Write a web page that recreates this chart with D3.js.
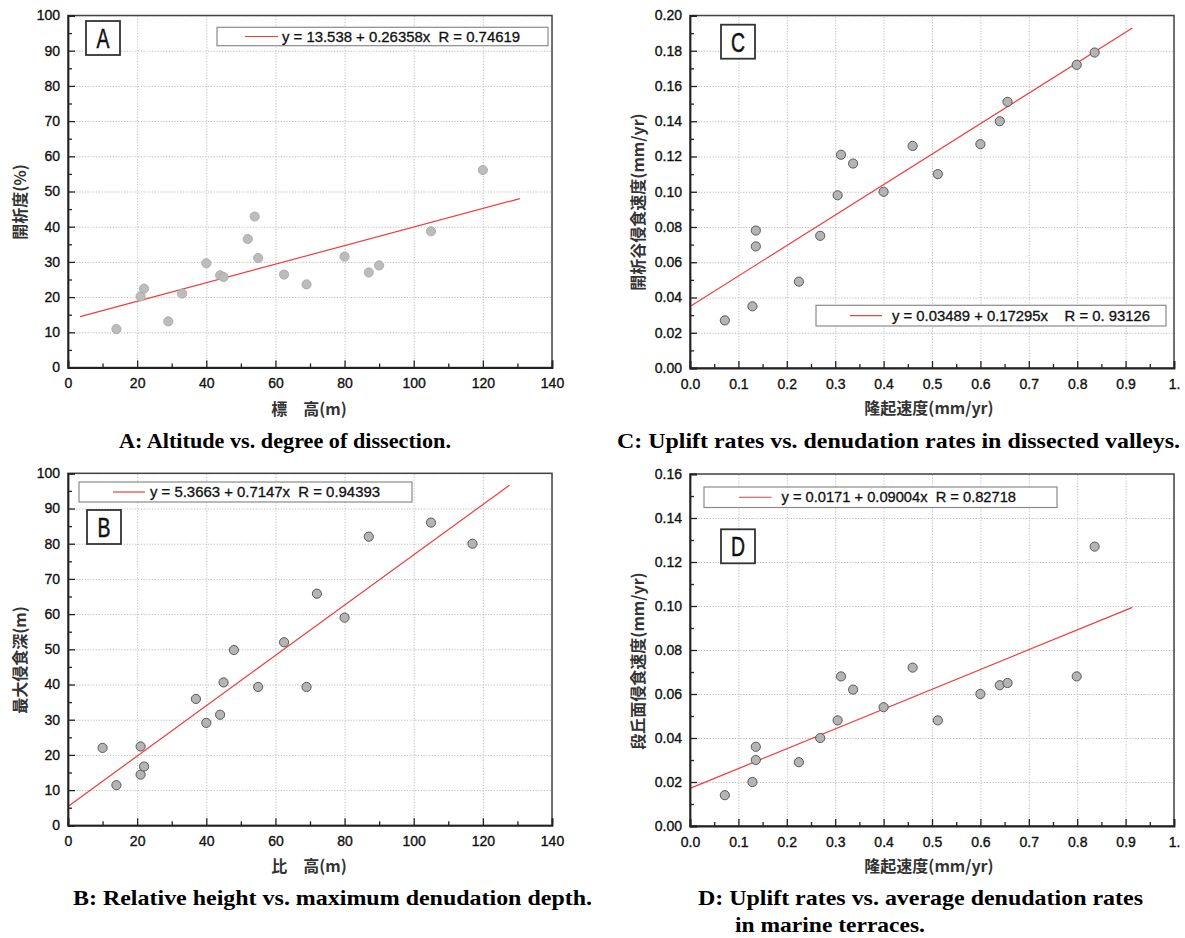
<!DOCTYPE html>
<html>
<head>
<meta charset="utf-8">
<script src="https://cdnjs.cloudflare.com/ajax/libs/d3/7.8.5/d3.min.js"></script>
<style>
body { margin: 0; background: white; }
.tick text { font-family: "Liberation Sans", Arial, sans-serif; font-size: 14px; fill: #111; stroke: #111; stroke-width: 0.35px; }
.grid line { stroke: #bdbdbd; stroke-dasharray: 1.2,1.6; }
.axis path { stroke: #222; stroke-width: 1.8; }
.axis line { stroke: #222; stroke-width: 1.3; }
.ttl { font-family: "Noto Sans CJK JP", sans-serif; font-size: 16px; font-weight: 600; fill: #333; }
.cap { font-family: "Liberation Serif", "Times New Roman", serif; font-weight: bold; font-size: 22px; fill: #000; }
.leg { font-family: "Liberation Sans", Arial, sans-serif; font-size: 14.5px; fill: #111; stroke: #111; stroke-width: 0.3px; }
.letter { font-family: "Liberation Sans", Arial, sans-serif; font-size: 27px; fill: #111; stroke: #111; stroke-width: 0.5px; }
</style>
</head>
<body>
<svg id="fig" width="1185" height="938"></svg>
<script>
// A: altitude vs degree of dissection
var altitude   = [14, 21, 22, 29, 33, 40, 44, 45, 52, 54, 55, 62.5, 69, 80, 87, 90, 105, 120];
var dissection = [10.9, 20.2, 22.4, 13.1, 21.0, 29.6, 26.2, 25.7, 36.5, 42.9, 31.1, 26.4, 23.6, 31.5, 27.0, 29.0, 38.7, 56.1];

// B: relative height vs maximum denudation depth
var relHeight  = [10, 14, 21, 21, 22, 37, 40, 44, 45, 48, 55, 62.5, 69, 72, 80, 87, 105, 117];
var maxDepth   = [22.0, 11.4, 22.4, 14.4, 16.7, 35.9, 29.1, 31.4, 40.6, 49.8, 39.3, 52.0, 39.3, 65.8, 59.0, 82.0, 86.0, 80.0];

// C / D: uplift rates
var uplift     = [0.072, 0.129, 0.136, 0.136, 0.225, 0.269, 0.305, 0.312, 0.337, 0.400, 0.460, 0.512, 0.600, 0.640, 0.656, 0.799, 0.836];
var valleyRate = [0.027, 0.035, 0.078, 0.069, 0.049, 0.075, 0.098, 0.121, 0.116, 0.100, 0.126, 0.110, 0.127, 0.140, 0.151, 0.172, 0.179];
var terraceRate= [0.014, 0.020, 0.036, 0.030, 0.029, 0.040, 0.048, 0.068, 0.062, 0.054, 0.072, 0.048, 0.060, 0.064, 0.065, 0.068, 0.127];

// regression lines (intercept, slope, drawn x range)
var fitA = {a: 13.538, b: 0.26358, from: 3.5, to: 130.7};
var fitB = {a: 5.3663, b: 0.7147, from: 0, to: 127.7};
var fitC = {a: 0.03489, b: 0.17295, from: 0, to: 0.914};
var fitD = {a: 0.0171, b: 0.09004, from: 0, to: 0.914};

// tick labels
var xTicksAB  = [0, 20, 40, 60, 80, 100, 120, 140];
var xMinorAB  = [10, 30, 50, 70, 90, 110, 130];
var yTicksAB  = [0, 10, 20, 30, 40, 50, 60, 70, 80, 90, 100];
var yMinorAB  = [5, 15, 25, 35, 45, 55, 65, 75, 85, 95];
var xTicksCD  = [0, 0.1, 0.2, 0.3, 0.4, 0.5, 0.6, 0.7, 0.8, 0.9, 1.0];
var xLabelsCD = ["0.0", "0.1", "0.2", "0.3", "0.4", "0.5", "0.6", "0.7", "0.8", "0.9", "1."];
var xMinorCD  = [0.05, 0.15, 0.25, 0.35, 0.45, 0.55, 0.65, 0.75, 0.85, 0.95];
var yTicksC   = [0, 0.02, 0.04, 0.06, 0.08, 0.10, 0.12, 0.14, 0.16, 0.18, 0.20];
var yMinorC   = [0.01, 0.03, 0.05, 0.07, 0.09, 0.11, 0.13, 0.15, 0.17, 0.19];
var yTicksD   = [0, 0.02, 0.04, 0.06, 0.08, 0.10, 0.12, 0.14, 0.16];
var yMinorD   = [0.01, 0.03, 0.05, 0.07, 0.09, 0.11, 0.13, 0.15];

var svg = d3.select("#fig");

function panel(p) {
  var g = svg.append("g").attr("transform", "translate(" + p.left + "," + p.top + ")");
  var x = d3.scaleLinear().domain(p.xDomain).range([0, p.w]);
  var y = d3.scaleLinear().domain(p.yDomain).range([p.h, 0]);

  // dotted grid
  g.append("g").attr("class", "grid").attr("transform", "translate(0," + p.h + ")")
    .call(d3.axisBottom(x).tickValues(p.xTicks).tickSize(-p.h).tickFormat(""))
    .call(function(s) { s.select(".domain").remove(); });
  g.append("g").attr("class", "grid")
    .call(d3.axisLeft(y).tickValues(p.yTicks).tickSize(-p.w).tickFormat(""))
    .call(function(s) { s.select(".domain").remove(); });

  // frame
  g.append("rect").attr("width", p.w).attr("height", p.h)
    .attr("fill", "none").attr("stroke", "#444").attr("stroke-width", 1.5);

  // fit line
  var line = d3.line().x(function(d) { return x(d); }).y(function(d) { return y(p.fit.a + p.fit.b * d); });
  g.append("path").datum([p.fit.from, p.fit.to]).attr("d", line)
    .attr("fill", "none").attr("stroke", "#f03c3c").attr("stroke-width", 1.2);

  // points
  g.selectAll("circle").data(p.xs).enter().append("circle")
    .attr("cx", function(d) { return x(d); })
    .attr("cy", function(d, i) { return y(p.ys[i]); })
    .attr("r", 4.6)
    .attr("fill", p.dot.fill).attr("stroke", p.dot.stroke).attr("stroke-width", 0.9);

  // axes
  g.append("g").attr("class", "axis").attr("transform", "translate(0," + p.h + ")")
    .call(d3.axisBottom(x).tickValues(p.xTicks).tickSize(-7).tickPadding(11)
      .tickFormat(function(d, i) { return p.xLabels[i]; }));
  g.append("g").attr("class", "axis").attr("transform", "translate(0," + p.h + ")")
    .call(d3.axisBottom(x).tickValues(p.xMinor).tickSize(-4).tickFormat(""))
    .call(function(s) { s.select(".domain").remove(); });
  g.append("g").attr("class", "axis")
    .call(d3.axisLeft(y).tickValues(p.yTicks).tickSize(-7).tickPadding(8)
      .tickFormat(function(d, i) { return p.yLabels[i]; }));
  g.append("g").attr("class", "axis")
    .call(d3.axisLeft(y).tickValues(p.yMinor).tickSize(-4).tickFormat(""))
    .call(function(s) { s.select(".domain").remove(); });

  // legend
  var L = p.legend;
  svg.append("rect").attr("x", L.x).attr("y", L.y).attr("width", L.w).attr("height", L.h)
    .attr("fill", "white").attr("stroke", "#8a8a8a").attr("stroke-width", 1.2);
  svg.append("line").attr("x1", L.lx1).attr("x2", L.lx2).attr("y1", L.y + L.h / 2).attr("y2", L.y + L.h / 2)
    .attr("stroke", "#f03c3c").attr("stroke-width", 1.2);
  svg.append("text").attr("class", "leg").attr("x", L.tx).attr("y", L.y + L.h / 2)
    .attr("dy", "0.36em").attr("textLength", L.tw).attr("lengthAdjust", "spacingAndGlyphs")
    .style("white-space", "pre").text(L.text);

  // letter box
  var B = p.box;
  svg.append("rect").attr("x", B.x).attr("y", B.y).attr("width", 34).attr("height", 34)
    .attr("fill", "white").attr("stroke", "#333").attr("stroke-width", 1.8);
  svg.append("text").attr("class", "letter")
    .attr("transform", "translate(" + (B.x + 17) + "," + (B.y + 27) + ") scale(0.72,1)")
    .attr("text-anchor", "middle").text(p.letter);

  // axis titles
  svg.append("text").attr("class", "ttl").attr("x", p.xt[0]).attr("y", p.xt[1])
    .attr("text-anchor", "middle").attr("dominant-baseline", "central").text(p.xTitle);
  svg.append("text").attr("class", "ttl")
    .attr("transform", "translate(" + p.yt[0] + "," + p.yt[1] + ") rotate(-90)")
    .attr("text-anchor", "middle").attr("dominant-baseline", "central").text(p.yTitle);

  // caption
  p.caption.forEach(function(c) {
    svg.append("text").attr("class", "cap").attr("x", c.x).attr("y", c.y)
      .attr("textLength", c.w).attr("lengthAdjust", "spacingAndGlyphs").text(c.t);
  });
}

panel({
  left: 68, top: 15.5, w: 484, h: 352,
  xDomain: [0, 140], yDomain: [0, 100],
  xTicks: xTicksAB, xLabels: xTicksAB.map(String), xMinor: xMinorAB,
  yTicks: yTicksAB, yLabels: yTicksAB.map(String), yMinor: yMinorAB,
  xs: altitude, ys: dissection, fit: fitA,
  dot: {fill: "#bcbcbc", stroke: "#a9a9a9"},
  legend: {x: 217, y: 27.3, w: 331, h: 18.4, lx1: 245, lx2: 278, tx: 282, tw: 238,
           text: "y = 13.538 + 0.26358x  R = 0.74619"},
  box: {x: 86, y: 21}, letter: "A",
  xTitle: "標\u3000高(m)", xt: [309, 408],
  yTitle: "開析度(%)", yt: [18.5, 202],
  caption: [{t: "A: Altitude vs. degree of dissection.", x: 119, y: 448, w: 332}]
});

panel({
  left: 68, top: 473.3, w: 484, h: 352,
  xDomain: [0, 140], yDomain: [0, 100],
  xTicks: xTicksAB, xLabels: xTicksAB.map(String), xMinor: xMinorAB,
  yTicks: yTicksAB, yLabels: yTicksAB.map(String), yMinor: yMinorAB,
  xs: relHeight, ys: maxDepth, fit: fitB,
  dot: {fill: "#b4b4b4", stroke: "#4c4c4c"},
  legend: {x: 79, y: 482, w: 333, h: 20, lx1: 113, lx2: 145, tx: 150, tw: 230,
           text: "y = 5.3663 + 0.7147x  R = 0.94393"},
  box: {x: 87, y: 510}, letter: "B",
  xTitle: "比\u3000高(m)", xt: [309, 865],
  yTitle: "最大侵食深(m)", yt: [18.5, 660],
  caption: [{t: "B: Relative height vs. maximum denudation depth.", x: 73, y: 905, w: 519}]
});

panel({
  left: 690, top: 15.5, w: 484, h: 352.5,
  xDomain: [0, 1], yDomain: [0, 0.2],
  xTicks: xTicksCD, xLabels: xLabelsCD, xMinor: xMinorCD,
  yTicks: yTicksC, yLabels: yTicksC.map(d3.format(".2f")), yMinor: yMinorC,
  xs: uplift, ys: valleyRate, fit: fitC,
  dot: {fill: "#b4b4b4", stroke: "#4c4c4c"},
  legend: {x: 816, y: 305.3, w: 350, h: 20.7, lx1: 850, lx2: 882, tx: 892, tw: 258,
           text: "y = 0.03489 + 0.17295x    R = 0. 93126"},
  box: {x: 721, y: 24.7}, letter: "C",
  xTitle: "隆起速度(mm/yr)", xt: [929, 407],
  yTitle: "開析谷侵食速度(mm/yr)", yt: [637, 202],
  caption: [{t: "C: Uplift rates vs. denudation rates in dissected valleys.", x: 617, y: 448, w: 563}]
});

panel({
  left: 690, top: 474, w: 484, h: 352,
  xDomain: [0, 1], yDomain: [0, 0.16],
  xTicks: xTicksCD, xLabels: xLabelsCD, xMinor: xMinorCD,
  yTicks: yTicksD, yLabels: yTicksD.map(d3.format(".2f")), yMinor: yMinorD,
  xs: uplift, ys: terraceRate, fit: fitD,
  dot: {fill: "#b4b4b4", stroke: "#4c4c4c"},
  legend: {x: 704, y: 487, w: 353, h: 20.5, lx1: 739, lx2: 771.5, tx: 781.5, tw: 234.5,
           text: "y = 0.0171 + 0.09004x  R = 0.82718"},
  box: {x: 721, y: 529.3}, letter: "D",
  xTitle: "隆起速度(mm/yr)", xt: [929, 865],
  yTitle: "段丘面侵食速度(mm/yr)", yt: [637, 661],
  caption: [{t: "D: Uplift rates vs. average denudation rates", x: 698, y: 905, w: 445},
            {t: "in marine terraces.", x: 735, y: 932, w: 190}]
});
</script>
</body>
</html>
